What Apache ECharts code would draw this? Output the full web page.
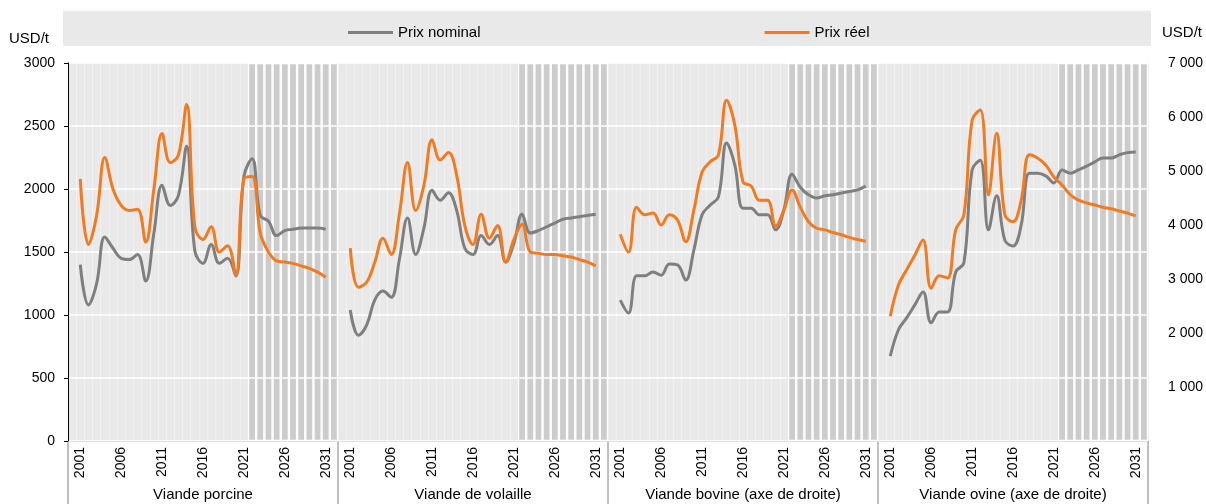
<!DOCTYPE html>
<html>
<head>
<meta charset="utf-8">
<script src="https://cdn.jsdelivr.net/npm/echarts@6/dist/echarts.min.js"></script>
<style>
  html, body { margin: 0; padding: 0; background: #fff; }
  #chart { width: 1206px; height: 504px; }
</style>
</head>
<body>
<div id="chart"></div>
<script>
const years = ['2001', '2002', '2003', '2004', '2005', '2006', '2007', '2008', '2009', '2010',
  '2011', '2012', '2013', '2014', '2015', '2016', '2017', '2018', '2019', '2020',
  '2021', '2022', '2023', '2024', '2025', '2026', '2027', '2028', '2029', '2030', '2031']
const labelYears = ['2001', '2006', '2011', '2016', '2021', '2026', '2031']
const firstProjectionYear = '2022'
const panelNames = ['Viande porcine', 'Viande de volaille', 'Viande bovine (axe de droite)', 'Viande ovine (axe de droite)']

// USD/t, axe de gauche
const porkNominal = [1400, 1080, 1250, 1620, 1530, 1450, 1440, 1480, 1270, 1650,
  2030, 1870, 1950, 2340, 1510, 1410, 1560, 1410, 1450, 1310,
  2100, 2240, 1790, 1745, 1630, 1670, 1680, 1690, 1690, 1690, 1680]
const porkReal = [2080, 1560, 1790, 2250, 2000, 1870, 1830, 1840, 1580, 2000,
  2440, 2210, 2270, 2670, 1700, 1600, 1700, 1500, 1550, 1320,
  2080, 2100, 1650, 1500, 1430, 1420, 1410, 1390, 1370, 1340, 1300]
const poultryNominal = [1040, 840, 920, 1120, 1190, 1140, 1440, 1770, 1480, 1690,
  1990, 1910, 1970, 1830, 1530, 1480, 1630, 1560, 1630, 1420,
  1570, 1800, 1650, 1670, 1700, 1730, 1760, 1770, 1780, 1790, 1800]
const poultryReal = [1530, 1220, 1260, 1420, 1610, 1480, 1800, 2210, 1830, 2030,
  2390, 2230, 2290, 2110, 1710, 1560, 1800, 1610, 1710, 1420,
  1600, 1720, 1500, 1490, 1480, 1480, 1470, 1460, 1440, 1420, 1390]
// USD/t, axe de droite
const beefNominal = [2610, 2370, 3060, 3060, 3130, 3070, 3280, 3260, 2980, 3540,
  4190, 4370, 4520, 5520, 5110, 4310, 4310, 4190, 4190, 3910,
  4280, 4940, 4700, 4560, 4500, 4540, 4560, 4590, 4620, 4650, 4720]
const beefReal = [3830, 3500, 4330, 4190, 4220, 4000, 4190, 4090, 3690, 4280,
  4980, 5170, 5300, 6310, 5850, 4800, 4720, 4460, 4460, 3980,
  4280, 4650, 4330, 4060, 3940, 3910, 3860, 3820, 3770, 3730, 3700]
const sheepNominal = [1570, 2060, 2280, 2520, 2760, 2190, 2390, 2390, 3130, 3300,
  5020, 5200, 3910, 4540, 3720, 3610, 4000, 4960, 4960, 4910,
  4780, 5020, 4960, 5020, 5090, 5170, 5240, 5240, 5300, 5340, 5350]
const sheepReal = [2310, 2890, 3170, 3440, 3720, 2830, 3060, 3020, 3910, 4190,
  5940, 6130, 4560, 5700, 4190, 4060, 4460, 5300, 5240, 5110,
  4890, 4740, 4560, 4460, 4410, 4370, 4330, 4300, 4260, 4220, 4170]

const leftMax = 3000
const leftInterval = 500
const rightMax = 7000
const rightInterval = 1000

const panels = [
  { nominal: porkNominal, real: porkReal, axis: 'left' },
  { nominal: poultryNominal, real: poultryReal, axis: 'left' },
  { nominal: beefNominal, real: beefReal, axis: 'right' },
  { nominal: sheepNominal, real: sheepReal, axis: 'right' }
]

const GREY = '#7f7f7f'
const ORANGE = '#f47a20'
const FONT = 'Liberation Sans'
const plotLeft = 68
const panelWidth = 270
const plotTop = 63
const plotBottom = 441

// une catégorie vide de chaque côté, comme dans le graphique d'origine
const categories = [' '].concat(years, ['  '])
const projStart = years.indexOf(firstProjectionYear) + 1
const projectionBars = categories.map((c, k) => (k >= projStart ? leftMax : null))
const pad = arr => [null].concat(arr, [null])
const thousands = v => String(v).replace(/\B(?=(\d{3})+(?!\d))/g, ' ')

const chart = echarts.init(document.getElementById('chart'))

const grid = []
const xAxis = []
const yAxis = []
const series = []

panels.forEach((p, i) => {
  grid.push({
    left: plotLeft + panelWidth * i,
    width: panelWidth,
    top: plotTop,
    bottom: 504 - plotBottom,
    outerBoundsMode: 'none',
    containLabel: false,
    show: true,
    backgroundColor: '#e9e9e9',
    borderWidth: 0
  })
  xAxis.push({
    type: 'category',
    gridIndex: i,
    data: categories,
    boundaryGap: true,
    name: panelNames[i],
    nameLocation: 'middle',
    nameGap: 46,
    nameTextStyle: { fontFamily: FONT, fontSize: 15, color: '#000' },
    axisLine: { lineStyle: { color: '#808080', width: 1 } },
    axisTick: { show: false },
    axisLabel: {
      rotate: 90,
      margin: 6,
      fontFamily: FONT,
      fontSize: 14,
      color: '#000',
      interval: (idx, val) => labelYears.indexOf(val) >= 0
    },
    splitLine: { show: true, interval: 0, lineStyle: { color: '#f1f1f1', width: 1 } }
  })
  // axe de fond (0-3000) : quadrillage blanc au-dessus des barres de projection
  yAxis.push({
    type: 'value',
    gridIndex: i,
    min: 0,
    max: leftMax,
    interval: leftInterval,
    z: 3,
    axisLine: { show: i === 0, lineStyle: { color: '#000', width: 1 } },
    axisTick: { show: i === 0, length: 4, lineStyle: { color: '#000' } },
    axisLabel: { show: i === 0, margin: 13, fontFamily: FONT, fontSize: 14, color: '#000', formatter: v => String(v) },
    splitLine: { show: true, lineStyle: { color: '#fff', width: 1.5 } }
  })
})

// axes de droite pour bovins (caché) et ovins (affiché)
yAxis.push({
  type: 'value', gridIndex: 2, min: 0, max: rightMax, interval: rightInterval, show: false
})
yAxis.push({
  type: 'value', gridIndex: 3, position: 'right', min: 0, max: rightMax, interval: rightInterval,
  axisLine: { show: false },
  axisTick: { show: false },
  splitLine: { show: false },
  axisLabel: {
    margin: 20, fontFamily: FONT, fontSize: 14, color: '#000',
    formatter: v => (v === 0 ? '' : thousands(v))
  }
})

panels.forEach((p, i) => {
  const yIdx = p.axis === 'left' ? i : (i === 2 ? 4 : 5)
  series.push({
    type: 'bar',
    xAxisIndex: i,
    yAxisIndex: i,
    data: projectionBars,
    barCategoryGap: '0%',
    silent: true,
    z: 1,
    itemStyle: { color: '#cccccc', borderColor: '#fff', borderWidth: 1.2 }
  })
  series.push({
    name: 'Prix nominal',
    type: 'line',
    xAxisIndex: i,
    yAxisIndex: yIdx,
    data: pad(p.nominal),
    smooth: 0.4,
    showSymbol: false,
    z: 5,
    lineStyle: { color: GREY, width: 3 },
    itemStyle: { color: GREY }
  })
  series.push({
    name: 'Prix réel',
    type: 'line',
    xAxisIndex: i,
    yAxisIndex: yIdx,
    data: pad(p.real),
    smooth: 0.4,
    showSymbol: false,
    z: 6,
    lineStyle: { color: ORANGE, width: 3 },
    itemStyle: { color: ORANGE }
  })
})

const separators = [0, 1, 2, 3, 4].map(k => ({
  type: 'line',
  shape: { x1: plotLeft + panelWidth * k, y1: plotBottom, x2: plotLeft + panelWidth * k, y2: 504 },
  style: { stroke: '#808080', lineWidth: 1 },
  silent: true
}))

chart.setOption({
  animation: false,
  legend: {
    data: ['Prix nominal', 'Prix réel'],
    top: 20,
    left: 343,
    icon: 'rect',
    itemWidth: 45,
    itemHeight: 3,
    itemGap: 284,
    textStyle: { fontFamily: FONT, fontSize: 15, color: '#000' }
  },
  graphic: [
    { type: 'rect', shape: { x: 63, y: 11, width: 1088, height: 35 }, style: { fill: '#e9e9e9' }, z: -10, silent: true },
    { type: 'text', left: 9, top: 31, style: { text: 'USD/t', font: '15px "Liberation Sans"', fill: '#000' } },
    { type: 'text', left: 1162, top: 25, style: { text: 'USD/t', font: '15px "Liberation Sans"', fill: '#000' } }
  ].concat(separators),
  grid: grid,
  xAxis: xAxis,
  yAxis: yAxis,
  series: series
})
</script>
</body>
</html>
